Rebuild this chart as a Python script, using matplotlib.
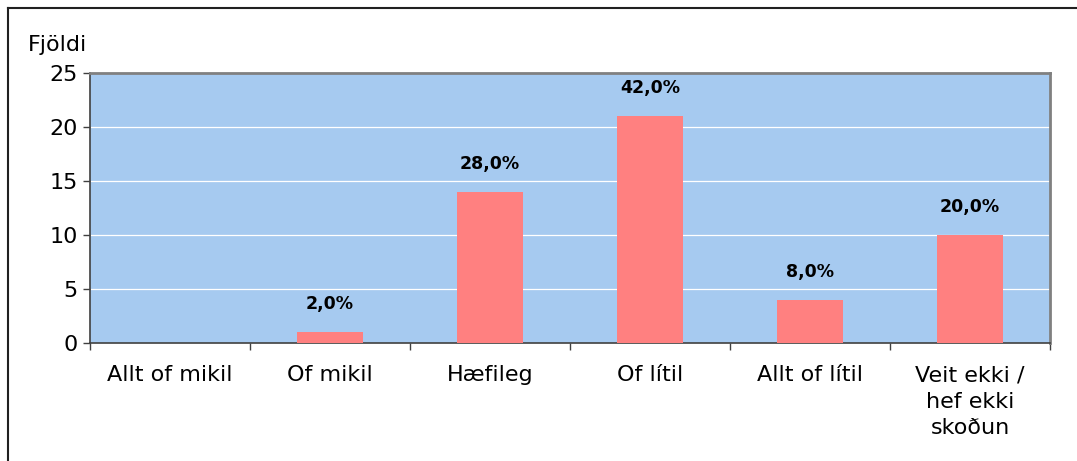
import matplotlib.pyplot as plt
from matplotlib.lines import Line2D

categories = ["Allt of mikil", "Of mikil", "Hæfileg", "Of lítil", "Allt of lítil",
              "Veit ekki /\nhef ekki\nskoðun"]
counts = [0, 1, 14, 21, 4, 10]
percent_labels = ["", "2,0%", "28,0%", "42,0%", "8,0%", "20,0%"]
y_ticks = [0, 5, 10, 15, 20, 25]

fig = plt.figure(figsize=(10.77, 4.61), dpi=100)
ax = fig.add_axes([90 / 1077, 1 - 343 / 461, 960 / 1077, 270 / 461])

ax.set_facecolor("#A6CAF0")
x = list(range(len(categories)))
ax.bar(x, counts, width=0.41, color="#FF8080", zorder=3)

# percent labels above bars
for xi, c, lab in zip(x, counts, percent_labels):
    if lab:
        ax.annotate(lab, (xi, c), xytext=(0, 20), textcoords="offset points",
                    ha="center", va="center", fontsize=12.5, fontweight="bold")

ax.set_xlim(-0.5, len(categories) - 0.5)
ax.set_ylim(0, 25)
ax.set_yticks(y_ticks)
ax.yaxis.grid(True, color="white", linewidth=0.9, zorder=1)
ax.tick_params(axis="y", labelsize=16, length=5, width=1, color="#404040", pad=4)

# category labels between the boundary ticks
ax.set_xticks([i + 0.5 for i in x[:-1]] + [-0.5, len(categories) - 0.5])
ax.set_xticklabels([])
ax.tick_params(axis="x", length=5, width=1, color="#404040")
ax.set_xticks(x, minor=True)
ax.set_xticklabels(categories, minor=True, fontsize=16, linespacing=1.4)
ax.tick_params(axis="x", which="minor", length=0, pad=16)

for s in ["left", "bottom"]:
    ax.spines[s].set_color("#404040")
    ax.spines[s].set_linewidth(1.2)
for s in ["top", "right"]:
    ax.spines[s].set_color("#808080")
    ax.spines[s].set_linewidth(2)

fig.text(28 / 1077, 1 - 45 / 461, "Fjöldi", fontsize=16, ha="left", va="center")

# outer chart border (left and top)
fig.add_artist(Line2D([8 / 1077, 8 / 1077], [0, 1 - 8 / 461], color="#202020", lw=1.5))
fig.add_artist(Line2D([8 / 1077, 1], [1 - 8 / 461, 1 - 8 / 461], color="#202020", lw=1.5))

fig.savefig("out.png", dpi=100)
